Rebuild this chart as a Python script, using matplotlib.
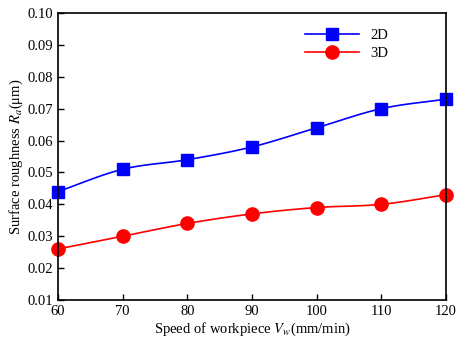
import numpy as np
import matplotlib.pyplot as plt

speed = [60, 70, 80, 90, 100, 110, 120]
ra_2d = [0.044, 0.051, 0.054, 0.058, 0.064, 0.070, 0.073]
ra_3d = [0.026, 0.030, 0.034, 0.037, 0.039, 0.040, 0.043]

plt.rcParams['font.family'] = ['Liberation Serif', 'DejaVu Serif']
plt.rcParams['mathtext.fontset'] = 'stix'


def smooth(x, y, n=20):
    # catmull-rom through the points, just for the drawn line
    x = np.asarray(x, float)
    y = np.asarray(y, float)
    px = np.concatenate([[2 * x[0] - x[1]], x, [2 * x[-1] - x[-2]]])
    py = np.concatenate([[2 * y[0] - y[1]], y, [2 * y[-1] - y[-2]]])
    xs, ys = [], []
    t = np.linspace(0, 1, n, endpoint=False)
    for i in range(1, len(px) - 2):
        for p, out in ((px, xs), (py, ys)):
            p0, p1, p2, p3 = p[i - 1], p[i], p[i + 1], p[i + 2]
            out.extend(0.5 * (2 * p1 + (-p0 + p2) * t
                              + (2 * p0 - 5 * p1 + 4 * p2 - p3) * t ** 2
                              + (-p0 + 3 * p1 - 3 * p2 + p3) * t ** 3))
    xs.append(x[-1])
    ys.append(y[-1])
    return xs, ys


fig = plt.figure(figsize=(4.58, 3.42), dpi=100)
ax = fig.add_axes([0.1266, 0.1228, 0.8472, 0.8392])

sx, sy = smooth(speed, ra_2d)
ax.plot(sx, sy, color='#0000ff', lw=1.2)
sx, sy = smooth(speed, ra_3d)
ax.plot(sx, sy, color='#ff0000', lw=1.2)
ax.plot(speed, ra_2d, ls='none', marker='s', ms=8.5, color='#0000ff', clip_on=False)
ax.plot(speed, ra_3d, ls='none', marker='o', ms=9.5, color='#ff0000', clip_on=False)

# legend entries
ax.plot([], [], color='#0000ff', lw=1.2, marker='s', ms=8.5, label='2D')
ax.plot([], [], color='#ff0000', lw=1.2, marker='o', ms=9.5, label='3D')
ax.legend(loc='upper right', bbox_to_anchor=(0.885, 0.99), frameon=False,
          fontsize=10.5, handlelength=3.7, labelspacing=0.3, borderpad=0.4)

ax.set_xlim(60, 120)
ax.set_ylim(0.01, 0.10)
ax.set_xticks(speed)
ax.set_yticks(np.arange(0.01, 0.1001, 0.01))
ax.set_yticklabels(['%.2f' % v for v in np.arange(0.01, 0.1001, 0.01)])
ax.tick_params(direction='in', length=4, width=1, labelsize=10.5, top=False, right=False)
for s in ax.spines.values():
    s.set_linewidth(1.2)

ax.set_xlabel('Speed of workpiece $V_w$(mm/min)', fontsize=10.5, labelpad=2)
ax.set_ylabel('Surface roughness $R_a$(μm)', fontsize=10.5, labelpad=2)

fig.savefig('out.png', dpi=100)
